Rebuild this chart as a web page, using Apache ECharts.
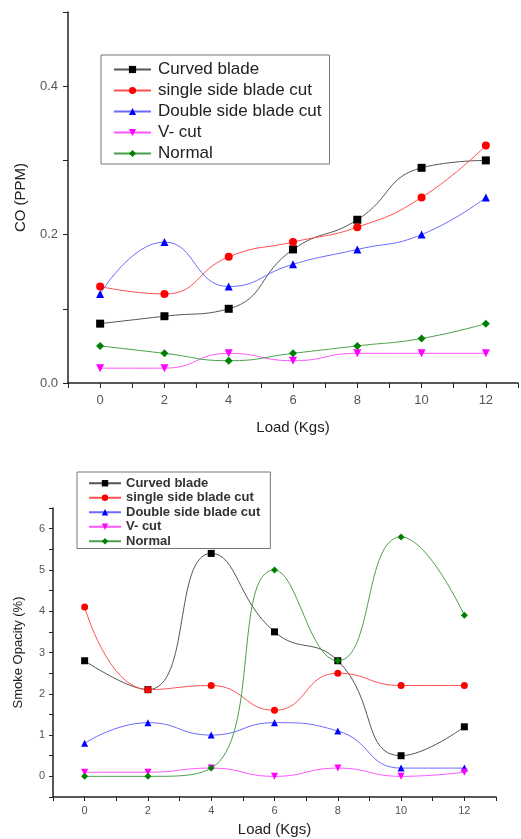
<!DOCTYPE html>
<html>
<head>
<meta charset="utf-8">
<script src="https://cdn.jsdelivr.net/npm/echarts@6/dist/echarts.min.js"></script>
<style>
  html, body { margin: 0; padding: 0; background: #fff; }
  #chart { width: 521px; height: 839px; }
</style>
</head>
<body>
<div id="chart"></div>
<script>
// load values on the x axis (Kgs)
var loads = [0, 2, 4, 6, 8, 10, 12];
var names = ['Curved blade', 'single side blade cut', 'Double side blade cut', 'V- cut', 'Normal'];

// CO (PPM) - top chart
var coCurved = [0.08, 0.09, 0.10, 0.18, 0.22, 0.29, 0.30];
var coSingle = [0.13, 0.12, 0.17, 0.19, 0.21, 0.25, 0.32];
var coDouble = [0.12, 0.19, 0.13, 0.16, 0.18, 0.20, 0.25];
var coVcut   = [0.02, 0.02, 0.04, 0.03, 0.04, 0.04, 0.04];
var coNormal = [0.05, 0.04, 0.03, 0.04, 0.05, 0.06, 0.08];

// Smoke opacity (%) - bottom chart
var smCurved = [2.8, 2.1, 5.4, 3.5, 2.8, 0.5, 1.2];
var smSingle = [4.1, 2.1, 2.2, 1.6, 2.5, 2.2, 2.2];
var smDouble = [0.8, 1.3, 1.0, 1.3, 1.1, 0.2, 0.2];
var smVcut   = [0.1, 0.1, 0.2, 0.0, 0.2, 0.0, 0.1];
var smNormal = [0.0, 0.0, 0.2, 5.0, 2.8, 5.8, 3.9];

var symbols = ['rect', 'circle', 'triangle', 'path://M0,0 L10,0 L5,9 Z', 'diamond'];
var markColors = ['#000000', '#ff0000', '#0000ff', '#ff00ff', '#008000'];
var lineColors = ['#555555', '#ff5050', '#6a6aff', '#ff55ff', '#4aa04a'];

function pairs(ys) {
  return loads.map(function (x, i) { return [x, ys[i]]; });
}

function makeSeries(sets, gridIdx, symSize) {
  return sets.map(function (ys, i) {
    return {
      name: names[i],
      type: 'line',
      xAxisIndex: gridIdx,
      yAxisIndex: gridIdx,
      data: pairs(ys),
      smooth: 0.5,
      symbol: symbols[i],
      symbolSize: symSize,
      clip: true,
      itemStyle: { color: markColors[i] },
      lineStyle: { color: lineColors[i], width: 1 }
    };
  });
}

function axisLine() {
  return { show: true, onZero: false, lineStyle: { color: '#222', width: 1.5 } };
}
var labelStyle = { color: '#555', fontFamily: 'Liberation Sans' };
var nameStyle = { color: '#222', fontFamily: 'Liberation Sans' };

function evenLabel(v) { return (v >= 0 && v % 2 === 0) ? v : ''; }

var chart = echarts.init(document.getElementById('chart'));
chart.setOption({
  animation: false,
  grid: [
    { left: 68, top: 12, width: 454, height: 371 },
    { left: 53, top: 508, width: 443, height: 289 }
  ],
  xAxis: [
    {
      gridIndex: 0, type: 'value', min: -1, max: 13, interval: 1,
      splitLine: { show: false }, axisLine: axisLine(),
      axisTick: { length: 5, lineStyle: { color: '#222' } },
      axisLabel: Object.assign({ fontSize: 13, margin: 11, formatter: evenLabel }, labelStyle),
      name: 'Load (Kgs)', nameLocation: 'middle', nameGap: 37,
      nameTextStyle: Object.assign({ fontSize: 15 }, nameStyle)
    },
    {
      gridIndex: 1, type: 'value', min: -1, max: 13, interval: 1,
      splitLine: { show: false }, axisLine: axisLine(),
      axisTick: { length: 4, lineStyle: { color: '#222' } },
      axisLabel: Object.assign({ fontSize: 11, margin: 8, formatter: evenLabel }, labelStyle),
      name: 'Load (Kgs)', nameLocation: 'middle', nameGap: 25,
      nameTextStyle: Object.assign({ fontSize: 15 }, nameStyle)
    }
  ],
  yAxis: [
    {
      gridIndex: 0, type: 'value', min: 0, max: 0.5, interval: 0.1,
      splitLine: { show: false }, axisLine: axisLine(),
      axisTick: { show: true, length: 5, lineStyle: { color: '#222' } },
      axisLabel: Object.assign({ fontSize: 13, margin: 10, formatter: function (v) {
        var k = Math.round(v * 10);
        return (k % 2 === 0 && k < 5) ? v.toFixed(1) : '';
      } }, labelStyle),
      name: 'CO (PPM)', nameLocation: 'middle', nameGap: 40,
      nameTextStyle: Object.assign({ fontSize: 15 }, nameStyle)
    },
    {
      gridIndex: 1, type: 'value', min: -0.5, max: 6.5, interval: 0.5,
      splitLine: { show: false }, axisLine: axisLine(),
      axisTick: { show: true, length: 4, lineStyle: { color: '#222' } },
      axisLabel: Object.assign({ fontSize: 11, margin: 8, formatter: function (v) {
        return (Math.abs(v - Math.round(v)) < 1e-6 && v >= 0 && v <= 6) ? String(Math.round(v)) : '';
      } }, labelStyle),
      name: 'Smoke Opacity (%)', nameLocation: 'middle', nameGap: 28,
      nameTextStyle: Object.assign({ fontSize: 13 }, nameStyle)
    }
  ],
  legend: [
    {
      orient: 'vertical', left: 101, top: 55,
      itemWidth: 37, itemHeight: 9, itemGap: 4,
      padding: [6, 8, 2, 12],
      borderColor: '#777', borderWidth: 1, backgroundColor: '#fff',
      data: names,
      textStyle: { fontSize: 17, lineHeight: 17, color: '#222', fontFamily: 'Liberation Sans', padding: [0, 0, 0, 2] }
    },
    {
      orient: 'vertical', left: 77, top: 472,
      itemWidth: 32, itemHeight: 8, itemGap: 0,
      padding: [4, 10, 0, 11],
      borderColor: '#777', borderWidth: 1, backgroundColor: '#fff',
      data: names,
      textStyle: { fontSize: 13, lineHeight: 14.5, color: '#333', fontWeight: 'bold', fontFamily: 'Liberation Sans' }
    }
  ],
  series: makeSeries([coCurved, coSingle, coDouble, coVcut, coNormal], 0, 8)
    .concat(makeSeries([smCurved, smSingle, smDouble, smVcut, smNormal], 1, 7))
});
</script>
</body>
</html>
